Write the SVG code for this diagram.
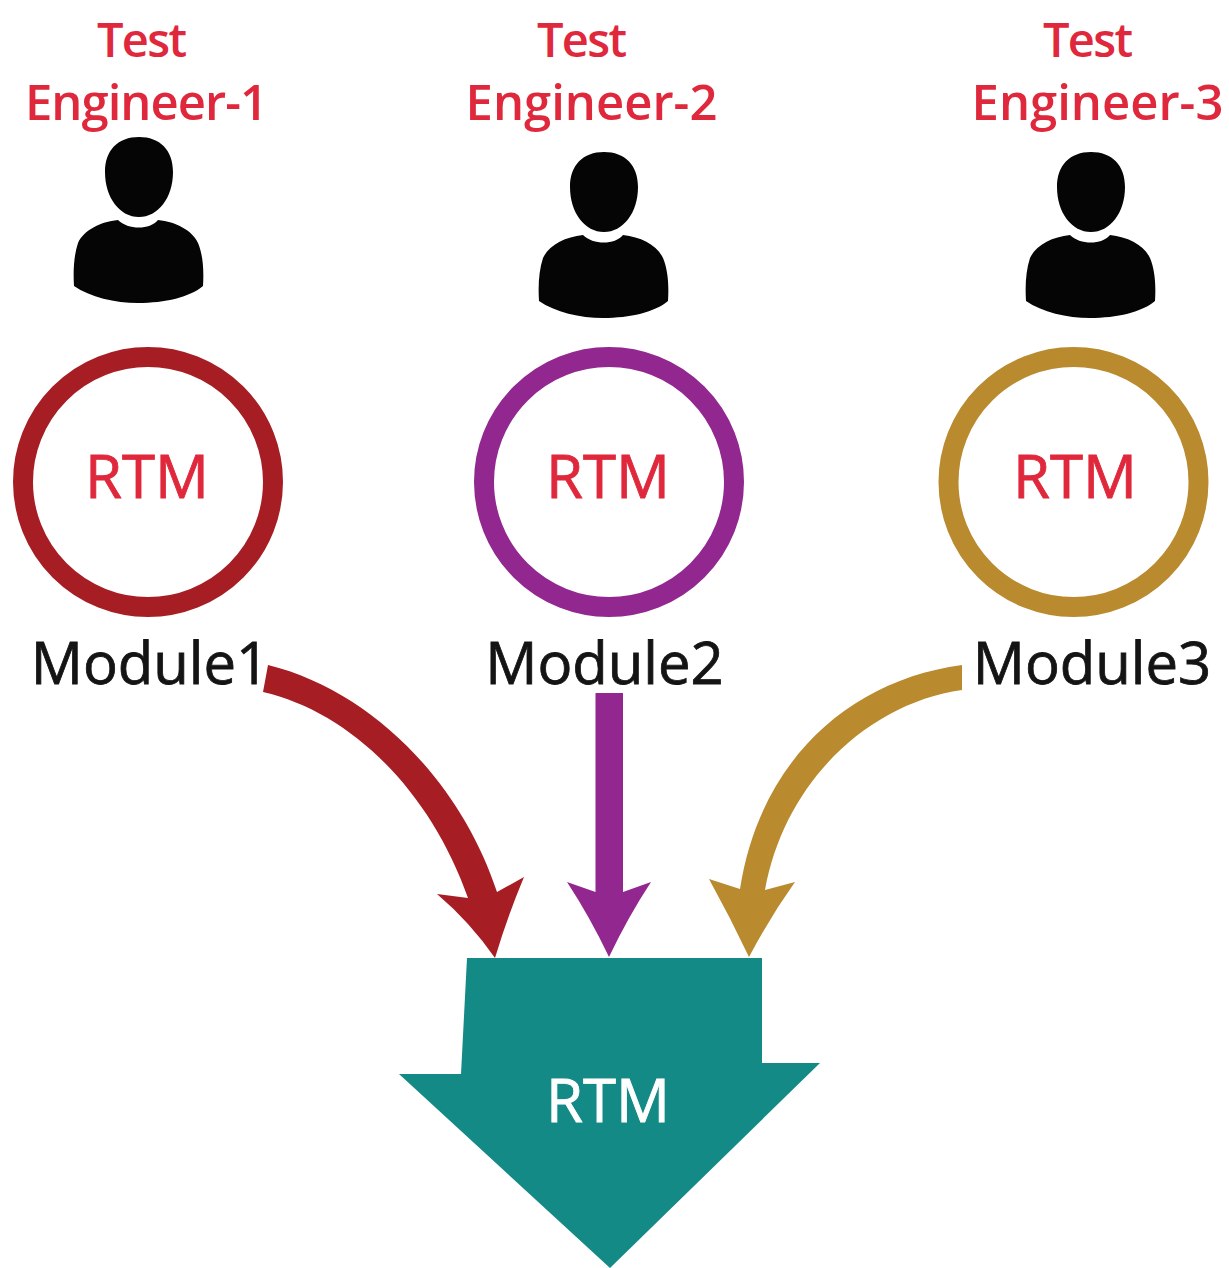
<svg xmlns="http://www.w3.org/2000/svg" width="1229" height="1268" viewBox="0 0 1229 1268">
<style>
text{font-family:"Open Sans","Noto Sans","Liberation Sans",sans-serif;text-anchor:middle}
.eng{font-size:49px;font-weight:600;fill:#e0283c}
.test{font-size:47px;font-weight:600;fill:#e0283c}
.rtm{font-size:60px;fill:#e0283c;stroke:#e0283c;stroke-width:.8px}
.mod{font-size:58px;fill:#141414;stroke:#141414;stroke-width:.8px}
.ring{fill:none;stroke-width:20}
</style>
<defs>
<path id="person" fill="#050505" d="M139 137C118 137 105 150 105 172C105 198 120 217 139 217C158 217 173 198 173 172C173 150 160 137 139 137ZM118 220C100 222 84 230 78 243C74 255 73 270 74 286C90 297 115 303 138 303C165 303 190 297 203 286C204 270 203 255 198 243C192 230 176 222 158 220C150 230 128 230 118 220Z"/>
</defs>
<rect width="1229" height="1268" fill="#fff"/>
<g id="engineer-1">
<text class="test" x="142" y="57" textLength="90">Test</text>
<text class="eng" x="146.500" y="120" textLength="243">Engineer-1</text>
<use href="#person"/>
</g>
<g id="engineer-2">
<text class="test" x="582" y="57" textLength="90">Test</text>
<text class="eng" x="591.500" y="120">Engineer-2</text>
<use href="#person" x="465" y="15"/>
</g>
<g id="engineer-3">
<text class="test" x="1088" y="57" textLength="90">Test</text>
<text class="eng" x="1097.500" y="120">Engineer-3</text>
<use href="#person" x="952" y="15"/>
</g>
<g id="module-1">
<circle class="ring" cx="148" cy="482" r="125" stroke="#a61e24"/>
<text class="rtm" x="147" y="498">RTM</text>
<text class="mod" x="150" y="684">Module1</text>
</g>
<g id="module-2">
<circle class="ring" cx="609" cy="482" r="125" stroke="#92278f"/>
<text class="rtm" x="608" y="498">RTM</text>
<text class="mod" x="604.500" y="684">Module2</text>
</g>
<g id="module-3">
<circle class="ring" cx="1073.500" cy="482" r="125" stroke="#b98a2e"/>
<text class="rtm" x="1075" y="498">RTM</text>
<text class="mod" x="1092" y="684">Module3</text>
</g>
<g id="connectors">
<path fill="#a61e24" d="M268 665C370 690 460 780 497 892L524 877Q508 915 495 958Q470 922 437 894L468 898C430 790 350 712 263 692Z"/>
<path fill="#92278f" d="M595.500 693H623V892L651 882Q628 917 609 957Q590 917 567 882L595.500 892Z"/>
<path fill="#b98a2e" d="M962 665V690C870 703 785 780 765 890L795 882Q770 917 749 957Q730 917 709 879L740 889C760 760 850 680 962 665Z"/>
</g>
<g id="rtm-merged">
<path fill="#148a87" d="M467 958H762V1063H820L610 1268L399 1074H461Z"/>
<text x="608" y="1122" font-size="60" fill="#fff" stroke="#fff" stroke-width=".8">RTM</text>
</g>
</svg>
